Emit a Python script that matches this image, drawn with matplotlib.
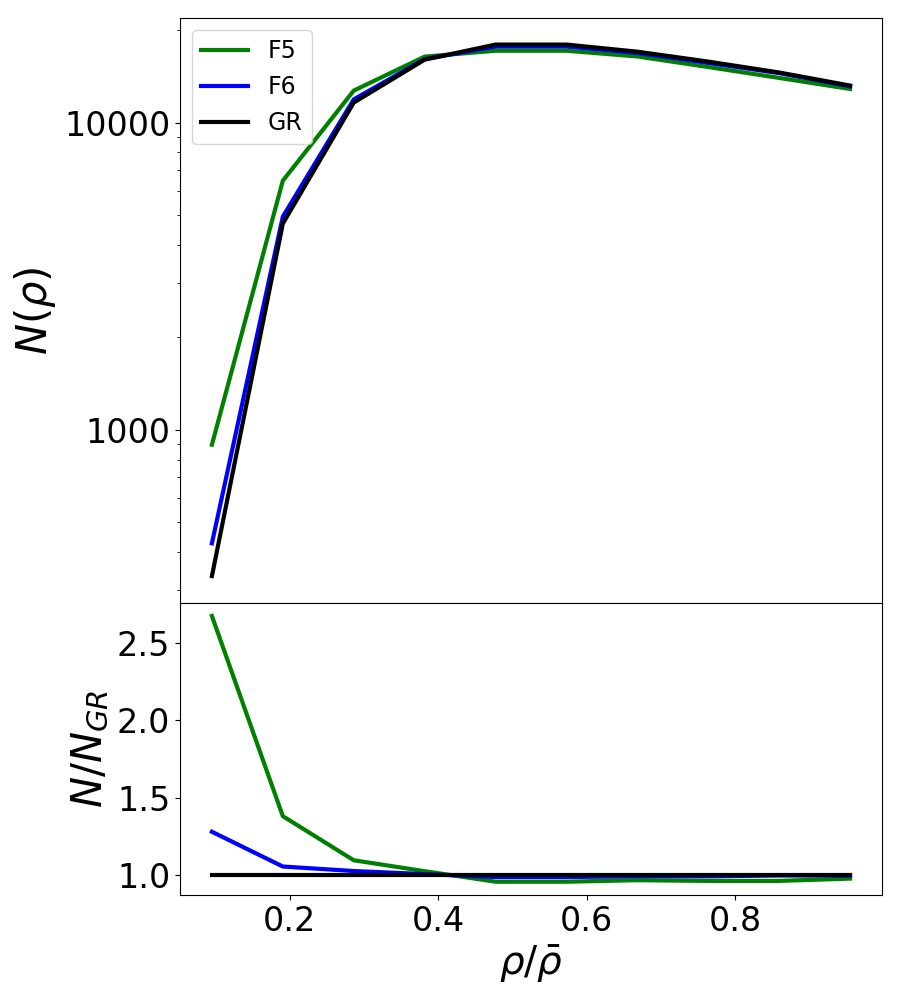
import matplotlib
matplotlib.use("Agg")
import matplotlib.pyplot as plt
import matplotlib.ticker as mticker
import numpy as np

rho = [0.0955, 0.191, 0.2865, 0.382, 0.4775, 0.573, 0.6685, 0.764, 0.8595, 0.955]
N_F5 = [894, 6470, 12710, 16400, 17140, 17140, 16420, 15170, 13980, 12870]
N_F6 = [427, 4940, 11900, 16100, 17680, 17680, 16850, 15640, 14490, 13130]
N_GR = [334, 4690, 11620, 16030, 17950, 17950, 17020, 15800, 14560, 13200]
labels = ["F5", "F6", "GR"]
colors = ["green", "blue", "black"]

fig = plt.figure(figsize=(9, 10), dpi=100)
gs = fig.add_gridspec(2, 1, height_ratios=[2, 1], hspace=0,
                      left=0.2, right=0.98, top=0.982, bottom=0.105)
ax1 = fig.add_subplot(gs[0])
ax2 = fig.add_subplot(gs[1], sharex=ax1)

series = [N_F5, N_F6, N_GR]
for s, lab, c in zip(series, labels, colors):
    ax1.plot(rho, s, color=c, lw=3, label=lab)
ax1.set_yscale("log")
ax1.yaxis.set_major_formatter(mticker.FuncFormatter(lambda v, p: f"{int(round(v))}"))
ax1.set_ylabel(r"$N(\rho)$", fontsize=30)
ax1.tick_params(axis="both", labelsize=24)
ax1.tick_params(axis="x", labelbottom=False)
ax1.legend(fontsize=17, loc="upper left")

gr = np.array(N_GR, dtype=float)
for s, lab, c in zip(series, labels, colors):
    ax2.plot(rho, np.array(s) / gr, color=c, lw=3)
ax2.set_ylabel(r"$N/N_{GR}$", fontsize=30)
ax2.set_xlabel(r"$\rho/\bar{\rho}$", fontsize=28)
ax2.tick_params(axis="both", labelsize=24)
ax2.set_yticks([1.0, 1.5, 2.0, 2.5])

fig.savefig("out.png", dpi=100)
